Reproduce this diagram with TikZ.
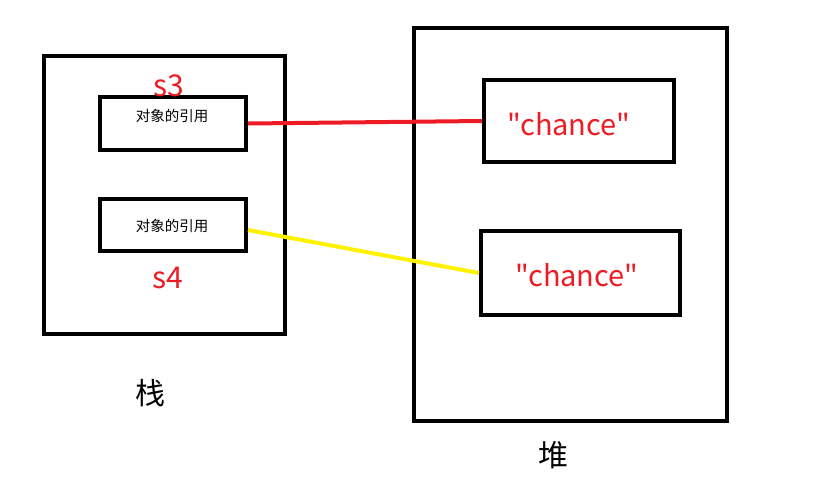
\documentclass[tikz,border=0pt]{standalone}
\usepackage{fontspec}
\setmainfont{Noto Sans CJK SC}[Ligatures=TeXOff]
\definecolor{pred}{HTML}{ED1C24}
\definecolor{pyellow}{HTML}{FFF200}
\begin{document}
\begin{tikzpicture}[x=1pt,y=-1pt,
  box/.style={draw=black,line width=4pt,inner sep=0pt,minimum width=#1},
  reftext/.style={font=\fontsize{14.5}{16}\selectfont,text=black},
  strtext/.style={font=\fontsize{29}{32}\selectfont,text=pred},
  varlabel/.style={font=\fontsize{30}{32}\selectfont,text=pred,inner sep=0pt},
  areatext/.style={font=\fontsize{30}{32}\selectfont,text=black,inner sep=0pt},
  link/.style={line width=4pt}]
\useasboundingbox[fill=white] (0,0) rectangle (833,496);
\node[box=241pt,minimum height=278pt] (stack) at (164.5,195) {};
\node[box=313pt,minimum height=393pt] (heap) at (570.5,224.5) {};
\node[box=146pt,minimum height=53pt] (s3) at (173,123.5) {};
\node[box=146pt,minimum height=52pt] (s4) at (173,225) {};
\node[reftext] (t3) at (172,116) {对象的引用};
\node[reftext] (t4) at (172,226) {对象的引用};
\node[box=190pt,minimum height=82pt] (c1) at (579,121) {};
\node[box=199pt,minimum height=84pt] (c2) at (580.5,273) {};
\node[strtext] (q1) at (569,124) {"chance"};
\node[strtext] (q2) at (577,275) {"chance"};
\node[varlabel] (l3) at (169,86) {s3};
\node[varlabel] (l4) at (168,278) {s4};
\node[areatext] (zh) at (150,393) {栈};
\node[areatext] (dui) at (553,455) {堆};
\draw[link,pred] (s3.east) -- (c1.west);
\draw[link,pyellow] ([yshift=-5pt]s4.east) -- (c2.west);
\end{tikzpicture}
\end{document}
